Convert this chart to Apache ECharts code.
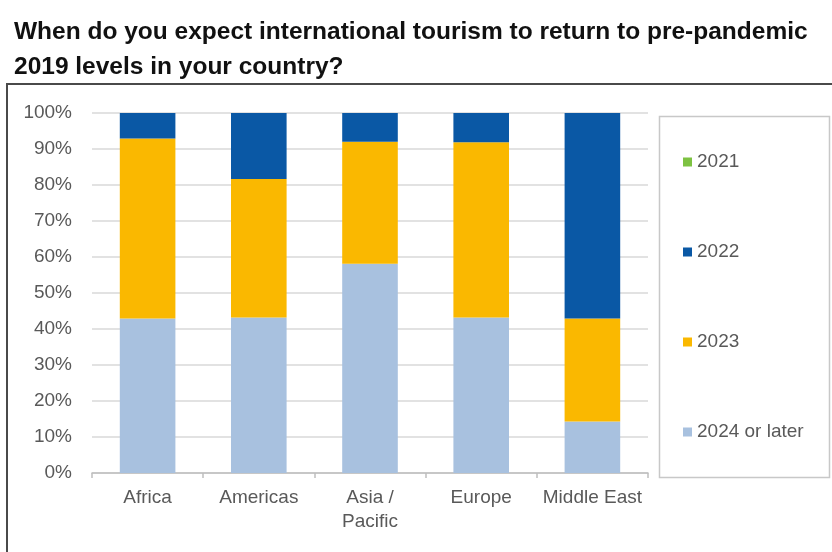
<!DOCTYPE html>
<html>
<head>
<meta charset="utf-8">
<script src="https://cdn.jsdelivr.net/npm/echarts@6/dist/echarts.min.js"></script>
<style>
  html, body { margin: 0; padding: 0; background: #ffffff; }
  #chart { width: 832px; height: 552px; }
</style>
</head>
<body>
<div id="chart"></div>
<script>
// Regions surveyed
const regions = ['Africa', 'Americas', 'Asia /\nPacific', 'Europe', 'Middle East'];

// Share of respondents (%) per expected recovery year
const y2021 = [0, 0, 0, 0, 0];
const y2022 = [7.1, 18.3, 8.0, 8.1, 57.1];
const y2023 = [50.0, 38.5, 33.9, 48.7, 28.6];
const y2024orLater = [42.9, 43.2, 58.1, 43.2, 14.3];

const legendNames = ['2021', '2022', '2023', '2024 or later'];
const yTicks = [0, 10, 20, 30, 40, 50, 60, 70, 80, 90, 100];

const colors = {
  '2021': '#7dc242',
  '2022': '#0a58a5',
  '2023': '#fab800',
  '2024 or later': '#a8c1df'
};

const labelFont = 'Liberation Sans, Arial, sans-serif';
const labelColor = '#595959';

const chart = echarts.init(document.getElementById('chart'), null, { renderer: 'canvas' });

function barSeries(name, data) {
  return {
    name: name,
    type: 'bar',
    stack: 'total',
    barWidth: '50%',
    data: data,
    itemStyle: { color: colors[name] },
    emphasis: { disabled: true }
  };
}

chart.setOption({
  animation: false,
  backgroundColor: '#ffffff',
  title: {
    text: 'When do you expect international tourism to return to pre-pandemic\n2019 levels in your country?',
    left: 14,
    top: 15,
    padding: 0,
    textStyle: {
      fontFamily: labelFont,
      fontSize: 24.5,
      fontWeight: 'bold',
      color: '#111111',
      lineHeight: 35
    }
  },
  graphic: [
    {
      type: 'rect',
      shape: { x: 7, y: 84, width: 900, height: 600 },
      style: { fill: 'none', stroke: '#4a4a4a', lineWidth: 2 },
      silent: true
    },
    {
      type: 'rect',
      shape: { x: 659.5, y: 116.5, width: 170, height: 361 },
      style: { fill: '#ffffff', stroke: '#c8c8c8', lineWidth: 1.5 },
      silent: true,
      z: 0
    }
  ],
  legend: {
    orient: 'vertical',
    left: 683,
    top: 152,
    padding: 0,
    itemWidth: 9,
    itemHeight: 9,
    itemGap: 70,
    data: legendNames.map(n => ({ name: n, icon: 'rect' })),
    textStyle: {
      fontFamily: labelFont,
      fontSize: 19,
      color: labelColor,
      lineHeight: 20
    },
    selectedMode: false,
    z: 5
  },
  grid: {
    left: 92,
    right: 184,
    top: 113,
    bottom: 79,
    containLabel: false
  },
  xAxis: {
    type: 'category',
    data: regions,
    axisLine: { show: true, lineStyle: { color: '#bfbfbf', width: 1.5 } },
    axisTick: { show: true, alignWithLabel: false, length: 5, lineStyle: { color: '#bfbfbf', width: 1.5 } },
    axisLabel: {
      margin: 13,
      fontFamily: labelFont,
      fontSize: 19,
      lineHeight: 24,
      color: labelColor,
      interval: 0
    },
    splitLine: { show: false }
  },
  yAxis: {
    type: 'value',
    min: yTicks[0],
    max: yTicks[yTicks.length - 1],
    interval: yTicks[1] - yTicks[0],
    axisLine: { show: false },
    axisTick: { show: false },
    axisLabel: {
      margin: 20,
      fontFamily: labelFont,
      fontSize: 19,
      color: labelColor,
      formatter: v => v + '%'
    },
    splitLine: { show: true, lineStyle: { color: '#d9d9d9', width: 1.5 } }
  },
  series: [
    barSeries('2024 or later', y2024orLater),
    barSeries('2023', y2023),
    barSeries('2022', y2022),
    barSeries('2021', y2021)
  ]
});
</script>
</body>
</html>
